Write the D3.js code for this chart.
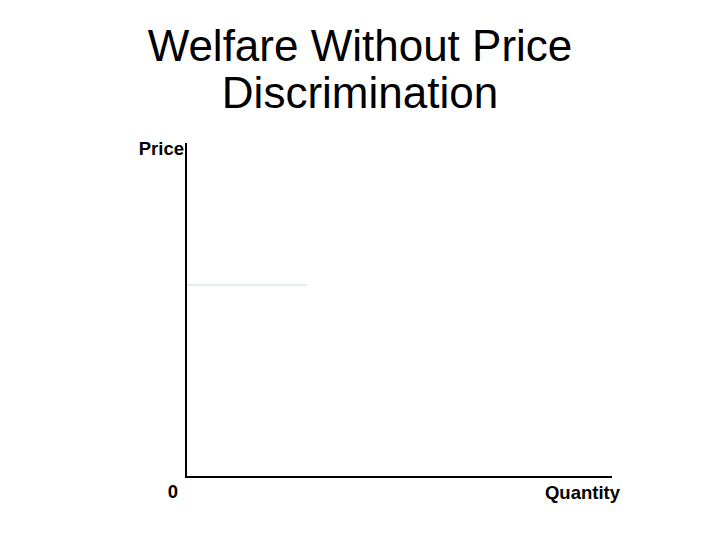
<!DOCTYPE html>
<html><head><meta charset="utf-8">
<script src="https://cdn.jsdelivr.net/npm/d3@7"></script>
<style>body{margin:0;background:#fff}</style>
</head><body>
<svg id="c" width="720" height="540"></svg>
<script>
const titleLines = ["Welfare Without Price", "Discrimination"];
const xLabel = "Quantity";
const yLabel = "Price";
const originLabel = "0";
// faint price level line: [quantity, price]
const priceLine = [[0, 5.75], [2.85, 5.75]];

const svg = d3.select("#c");
const m = {left: 186, right: 612, top: 143, bottom: 477};
const x = d3.scaleLinear().domain([0, 10]).range([m.left, m.right]);
const y = d3.scaleLinear().domain([0, 10]).range([m.bottom, m.top]);

svg.append("rect").attr("width", 720).attr("height", 540).attr("fill", "#fff");

svg.selectAll("text.title").data(titleLines).join("text")
  .attr("class", "title")
  .attr("x", 360).attr("y", (d, i) => 61 + i * 47)
  .attr("text-anchor", "middle")
  .attr("font-family", "Liberation Sans, Arial, sans-serif")
  .attr("font-size", 44).attr("fill", "#000")
  .text(d => d);

const line = d3.line().x(d => x(d[0])).y(d => y(d[1]));
svg.append("path").attr("d", line(priceLine))
  .attr("stroke", "#dde9ea").attr("stroke-width", 1.5).attr("fill", "none");

// axes
svg.append("path").attr("d", line([[0, 10], [0, 0], [10, 0]]))
  .attr("stroke", "#000").attr("stroke-width", 2).attr("fill", "none");

const lab = {"font-family": "Liberation Sans, Arial, sans-serif", "font-size": 18.5, "font-weight": "bold"};
function t(txt, px, py, anchor) {
  const e = svg.append("text").attr("x", px).attr("y", py).attr("text-anchor", anchor).text(txt);
  Object.entries(lab).forEach(([k, v]) => e.attr(k, v));
  return e;
}
t(yLabel, x(0) - 2, y(10) + 12, "end");
t(originLabel, x(0) - 13, y(0) + 21, "middle");
t(xLabel, x(10) + 8, y(0) + 22, "end");
</script>
</body></html>
